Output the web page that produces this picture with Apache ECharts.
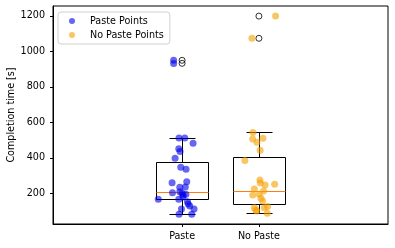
<!DOCTYPE html>
<html>
<head>
<meta charset="utf-8">
<script src="https://cdn.jsdelivr.net/npm/echarts@6/dist/echarts.min.js"></script>
<style>
html,body{margin:0;padding:0;background:#fff;}
#c{width:395px;height:248px;}
</style>
</head>
<body>
<div id="c"></div>
<script>
// ---- data ----
const categories = ['Paste', 'No Paste'];
const positions = [1, 2];
const yTicks = [200, 400, 600, 800, 1000, 1200];

// box statistics per category
const boxMin    = [82, 87];
const boxQ1     = [168, 140];
const boxMedian = [206, 213];
const boxQ3     = [374, 403];
const boxMax    = [512, 543];
const fliersPaste   = [949, 932];
const fliersNoPaste = [1198, 1073];

// jittered raw points
const pasteJitter = [-0.04, 0.035, 0.143, -0.043, -0.026, -0.091, -0.017, 0.052, -0.13, 0.061, -0.03, 0.042, -0.125, -0.03, 0.013, -0.31, -0.043, 0.013, 0.07, 0.1, 0.156, -0.008, -0.04, 0.126, -0.11, -0.11, 0.0, 0.05, 0.08];
const pasteTimes  = [512, 512, 482, 451, 436, 397, 346, 335, 260, 265, 234, 236, 203, 209, 190, 166, 166, 179, 153, 128, 112, 112, 82, 82, 950, 931, 200, 195, 140];
const noPasteJitter = [-0.078, -0.082, -0.026, 0.052, 0.016, -0.183, 0.013, 0.018, 0.08, 0.204, -0.06, 0.061, -0.08, 0.005, 0.026, 0.048, -0.06, 0.07, 0.113, -0.039, 0.109, -0.03, 0.217, -0.091];
const noPasteTimes  = [543, 506, 487, 510, 442, 385, 275, 258, 247, 251, 224, 213, 190, 194, 172, 157, 119, 119, 126, 106, 87, 100, 1198, 1073];

// ---- build ----
const boxData = positions.map((p, i) => [p, boxMin[i], boxQ1[i], boxMedian[i], boxQ3[i], boxMax[i]]);
const flierData = fliersPaste.map(v => [positions[0], v]).concat(fliersNoPaste.map(v => [positions[1], v]));
const pastePts = pasteTimes.map((v, i) => [positions[0] + pasteJitter[i], v]);
const noPastePts = noPasteTimes.map((v, i) => [positions[1] + noPasteJitter[i], v]);

const HALF_BOX = 0.335, HALF_CAP = 0.17;
const cr = v => Math.round(v) + 0.5;

function renderBox(params, api) {
  const p = api.value(0);
  const lo = api.value(1), q1 = api.value(2), med = api.value(3), q3 = api.value(4), hi = api.value(5);
  const xl = cr(api.coord([p - HALF_BOX, 0])[0]);
  const xr = cr(api.coord([p + HALF_BOX, 0])[0]);
  const xc = cr(api.coord([p, 0])[0]);
  const cl = cr(api.coord([p - HALF_CAP, 0])[0]);
  const crr = cr(api.coord([p + HALF_CAP, 0])[0]);
  const yLo = cr(api.coord([p, lo])[1]);
  const yQ1 = cr(api.coord([p, q1])[1]);
  const yMed = cr(api.coord([p, med])[1]);
  const yQ3 = cr(api.coord([p, q3])[1]);
  const yHi = cr(api.coord([p, hi])[1]);
  const ls = {stroke: '#000', lineWidth: 1, fill: null};
  return {
    type: 'group',
    children: [
      {type: 'rect', shape: {x: xl, y: yQ3, width: xr - xl, height: yQ1 - yQ3}, style: {stroke: '#000', lineWidth: 1, fill: 'none'}},
      {type: 'line', shape: {x1: xc, y1: yQ3, x2: xc, y2: yHi}, style: ls},
      {type: 'line', shape: {x1: xc, y1: yQ1, x2: xc, y2: yLo}, style: ls},
      {type: 'line', shape: {x1: cl, y1: yHi, x2: crr, y2: yHi}, style: ls},
      {type: 'line', shape: {x1: cl, y1: yLo, x2: crr, y2: yLo}, style: ls},
      {type: 'line', shape: {x1: xl, y1: yMed, x2: xr, y2: yMed}, style: {stroke: '#ff7f0e', lineWidth: 1}}
    ]
  };
}

const chart = echarts.init(document.getElementById('c'), null, {renderer: 'canvas'});
const FONT = 'DejaVu Sans';
const FS = 9.6;
chart.setOption({
  animation: false,
  backgroundColor: '#fff',
  textStyle: {fontFamily: FONT},
  grid: {left: 53, right: 7, top: 6, bottom: 24, outerBoundsMode: 'none', containLabel: false,
    show: true, borderColor: '#000', borderWidth: 1, backgroundColor: 'transparent'},
  legend: {
    data: ['Paste Points', 'No Paste Points'],
    orient: 'vertical',
    left: 58, top: 12,
    padding: [3, 6, 3, 11],
    itemWidth: 26, itemHeight: 6, itemGap: 2,
    backgroundColor: '#fff',
    borderColor: '#d0d0d0', borderWidth: 1, borderRadius: 3,
    textStyle: {fontFamily: FONT, fontSize: FS, color: '#000', lineHeight: 12}
  },
  xAxis: {
    type: 'value', min: -0.68, max: 3.68,
    splitLine: {show: false},
    axisLine: {show: true, onZero: false, lineStyle: {color: '#000', width: 1}},
    axisTick: {show: true, length: 3, customValues: positions, lineStyle: {color: '#000'}},
    axisLabel: {customValues: positions, margin: 7, fontSize: FS, fontFamily: FONT, color: '#000',
      formatter: v => categories[positions.indexOf(v)] || ''}
  },
  yAxis: {
    type: 'value', min: 27, max: 1255,
    name: 'Completion time [s]', nameLocation: 'middle', nameGap: 37, nameMoveOverlap: false,
    nameTextStyle: {fontSize: FS, fontFamily: FONT, color: '#000'},
    splitLine: {show: false},
    axisLine: {show: true, onZero: false, lineStyle: {color: '#000', width: 1}},
    axisTick: {show: true, length: 3, customValues: yTicks, lineStyle: {color: '#000'}},
    axisLabel: {customValues: yTicks, margin: 8, fontSize: FS, fontFamily: FONT, color: '#000',
      formatter: v => String(v)}
  },
  series: [
    {type: 'custom', name: 'box', data: boxData, renderItem: renderBox, z: 2, encode: {x: 0, y: [1, 2, 3, 4, 5]}},
    {type: 'scatter', name: 'fliers', data: flierData, symbol: 'circle', symbolSize: 6,
      itemStyle: {color: 'rgba(255,255,255,0)', borderColor: '#000', borderWidth: 1}, z: 3},
    {type: 'scatter', name: 'Paste Points', data: pastePts, symbolSize: 7,
      itemStyle: {color: 'rgba(0,0,235,0.75)'}, z: 4},
    {type: 'scatter', name: 'No Paste Points', data: noPastePts, symbolSize: 7,
      itemStyle: {color: 'rgba(245,160,0,0.75)'}, z: 4}
  ]
});
</script>
</body>
</html>
